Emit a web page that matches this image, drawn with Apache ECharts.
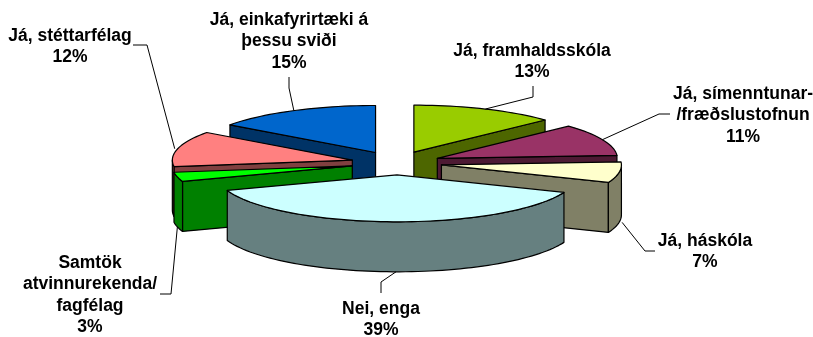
<!DOCTYPE html>
<html>
<head>
<meta charset="utf-8">
<style>html,body{margin:0;padding:0;background:#fff}#c{width:813px;height:337px}</style>
<script src="https://cdn.jsdelivr.net/npm/echarts@6/dist/echarts.min.js"></script>
</head>
<body>
<div id="c"></div>
<script>
// Data, in clockwise order from twelve o'clock
const categories = ['Já, framhaldsskóla', 'Já, símenntunar-\n/fræðslustofnun', 'Já, háskóla', 'Nei, enga', 'Samtök\natvinnurekenda/\nfagfélag', 'Já, stéttarfélag', 'Já, einkafyrirtæki á\nþessu sviði'];
const values = [13, 11, 7.1, 38.5, 3.2, 12.2, 15];

// Styling, per category
const topColors = ['#99CC00', '#993366', '#FFFFCC', '#CCFFFF', '#00FF00', '#FF8080', '#0066CC'];
const sideColors = ['#4D6600', '#4D1A33', '#808066', '#668080', '#008000', '#804040', '#003366'];
// Back-to-front painting order
const paintOrder = [6, 0, 1, 5, 2, 4, 3];
// Label centre x, first-line centre y, and leader path from the label to the elbow
const labelPos = [[532, 51], [743, 94], [705, 241], [381, 309], [90, 263], [70, 36], [289, 20]];
const leaderPts = [
  [[533, 86], [533, 97]],
  [[670, 114], [659, 114]],
  [[655, 251], [645, 251]],
  [[381, 293], [381, 282]],
  [[160, 294], [171, 294]],
  [[133, 45], [147, 45]],
  [[289, 77], [289, 88]]
];
// Small per-slice position adjustment in px
const sliceShiftX = [0, 0, 1, 2, 0, 0, 0];
const leaderShiftX = [0, 0, 3, 3, 0, -3, 0];

// 3-D projection
const CX = 396, CY = 163, RX = 180, RY = 47, EX = 45, EY = 11.8, DEPTH = 50;
const FONT = 'bold 17.5px "Liberation Sans", Arial, sans-serif';
const total = values.reduce((a, b) => a + b, 0);
const rad = d => d * Math.PI / 180;

const startAngles = [];
values.reduce((acc, v, i) => { startAngles[i] = acc / total * 360; return acc + v; }, 0);

function renderItem(params, api) {
  const idx = api.value(0);
  const val = api.value(1);
  const a = startAngles[idx];
  const b = a + val / total * 360;
  const mid = (a + b) / 2;
  const ax = CX + EX * Math.sin(rad(mid)) + sliceShiftX[idx];
  const ay = CY - EY * Math.cos(rad(mid));
  const rim = t => [ax + RX * Math.sin(rad(t)), ay - RY * Math.cos(rad(t))];
  const down = p => [p[0], p[1] + DEPTH];
  const arc = (s, e) => {
    const n = Math.max(2, Math.ceil((e - s) / 2));
    const out = [];
    for (let i = 0; i <= n; i++) out.push(rim(s + (e - s) * i / n));
    return out;
  };
  const apex = [ax, ay];
  const face = {stroke: '#000', lineWidth: 1.2, lineJoin: 'round'};
  const children = [];
  const poly = (points, fill) => children.push({type: 'polygon', silent: true, shape: {points}, style: Object.assign({fill}, face)});

  // radial cut faces turned towards the viewer
  if (Math.sin(rad(a)) < 0) poly([apex, rim(a), down(rim(a)), down(apex)], sideColors[idx]);
  if (Math.sin(rad(b)) > 0) poly([apex, rim(b), down(rim(b)), down(apex)], sideColors[idx]);
  // outer wall, front half only
  const s = Math.max(a, 90), e = Math.min(b, 270);
  if (e > s) {
    const top = arc(s, e);
    poly(top.concat(top.slice().reverse().map(down)), sideColors[idx]);
  }
  // top surface
  poly([apex].concat(arc(a, b)), topColors[idx]);

  // leader line: from the label to the rim at the bisector
  const onFront = mid > 90 && mid < 270;
  const p = onFront ? down(rim(mid)) : rim(mid);
  const end = [p[0] + leaderShiftX[idx], p[1]];
  children.push({type: 'polyline', silent: true, z2: 50, shape: {points: leaderPts[idx].concat([end])}, style: {stroke: '#000', lineWidth: 1, fill: null}});

  // label
  children.push({
    type: 'text', silent: true, z2: 60,
    style: {
      x: labelPos[idx][0], y: labelPos[idx][1] - 10.75,
      text: categories[idx] + '\n' + Math.round(val / total * 100) + '%',
      font: FONT, fill: '#000', align: 'center', verticalAlign: 'top', lineHeight: 21.5
    }
  });
  return {type: 'group', children};
}

const chart = echarts.init(document.getElementById('c'), null, {renderer: 'canvas'});
chart.setOption({
  animation: false,
  backgroundColor: '#fff',
  series: [{
    type: 'custom',
    coordinateSystem: 'none',
    renderItem,
    silent: true,
    data: paintOrder.map(i => [i, values[i]])
  }]
});
</script>
</body>
</html>
